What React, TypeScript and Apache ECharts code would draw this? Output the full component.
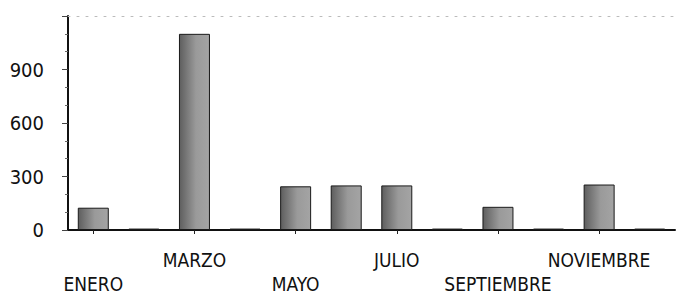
import React, { useEffect, useRef } from "react";
import * as echarts from "echarts";

const categories = [
  "ENERO", "FEBRERO", "MARZO", "ABRIL", "MAYO", "JUNIO",
  "JULIO", "AGOSTO", "SEPTIEMBRE", "OCTUBRE", "NOVIEMBRE", "DICIEMBRE",
];
const values = [125, 8, 1100, 8, 245, 250, 250, 8, 130, 8, 255, 8];
const yTicks = [0, 300, 600, 900];

const FONT = "'DejaVu Sans Condensed', 'Liberation Sans Narrow', 'DejaVu Sans', sans-serif";

export default function App() {
  const ref = useRef<HTMLDivElement>(null);
  useEffect(() => {
    if (!ref.current) return;
    const chart = echarts.init(ref.current, undefined, { renderer: "svg" });
    const labelBase = {
      hideOverlap: false,
      color: "#111",
      fontFamily: FONT,
      fontSize: 19,
      lineHeight: 16,
    };
    chart.setOption({
      animation: false,
      backgroundColor: "#ffffff",
      grid: { left: 68, right: 1, top: 16, bottom: 67, containLabel: false, outerBoundsMode: "none" },
      xAxis: [
        {
          type: "category",
          data: categories,
          axisLine: { lineStyle: { color: "#111", width: 2 } },
          axisTick: {
            show: true,
            interval: (i: number) => i % 2 === 0,
            alignWithLabel: true,
            length: 4,
            lineStyle: { color: "#222" },
          },
          axisLabel: {
            ...labelBase,
            interval: (i: number) => i % 4 === 2,
            margin: 22,
          },
        },
        {
          type: "category",
          position: "top",
          data: categories,
          axisLine: { lineStyle: { color: "#bbb", width: 1, type: [2, 7] } },
          axisTick: { show: false },
          axisLabel: { show: false },
        },
        {
          type: "category",
          position: "bottom",
          data: categories,
          axisLine: { show: false },
          axisTick: { show: false },
          axisLabel: {
            ...labelBase,
            interval: (i: number) => i % 4 === 0,
            margin: 46,
          },
        },
      ],
      yAxis: {
        type: "value",
        min: 0,
        max: 1200,
        interval: 300,
        axisLine: { show: true, lineStyle: { color: "#111", width: 2 } },
        axisTick: { show: true, length: 6, lineStyle: { color: "#444" } },
        minorTick: { show: true, splitNumber: 3, length: 3, lineStyle: { color: "#666" } },
        splitLine: { show: false },
        axisLabel: {
          color: "#111",
          fontFamily: FONT,
          fontSize: 20,
          margin: 24,
          formatter: (v: number) => (yTicks.indexOf(v) >= 0 ? String(v) : ""),
        },
      },
      series: [
        {
          type: "bar",
          xAxisIndex: 0,
          data: values,
          barWidth: 31,
          itemStyle: {
            color: new echarts.graphic.LinearGradient(0, 0, 1, 0, [
              { offset: 0, color: "#5e5e5e" },
              { offset: 0.55, color: "#9a9a9a" },
              { offset: 1, color: "#a4a4a4" },
            ]),
            borderColor: "#1a1a1a",
            borderWidth: 1,
          },
        },
      ],
    });
    return () => chart.dispose();
  }, []);
  return <div ref={ref} style={{ width: 676, height: 297, position: "absolute", left: 0, top: 0 }} />;
}
